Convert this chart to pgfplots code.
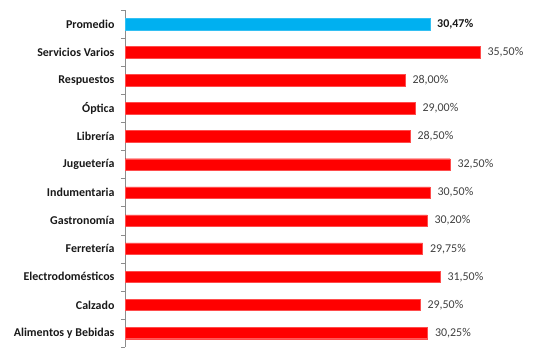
\documentclass[border=0pt]{standalone}
\usepackage{pgfplots}
\pgfplotsset{compat=1.18}
\usepackage{fontspec}
\setmainfont{Carlito}
\definecolor{barred}{RGB}{255,0,0}
\definecolor{barblue}{RGB}{0,176,240}
\definecolor{lblgray}{RGB}{64,64,64}
\begin{document}
\begin{tikzpicture}
\path[use as bounding box] (0,0) rectangle (544bp,355bp);
\begin{axis}[
  at={(125bp,8bp)}, anchor=south west,
  scale only axis, width=410bp, height=337bp,
  xmin=0, xmax=41,
  ymin=-0.5, ymax=11.5,
  axis x line=none,
  axis y line=left,
  y axis line style={-, draw=gray!90},
  ytick={0,...,11},
  yticklabels={Alimentos y Bebidas, Calzado, Electrodomésticos, Ferretería, Gastronomía, Indumentaria, Juguetería, Librería, Óptica, Respuestos, Servicios Varios, Promedio},
  yticklabel style={font=\fontsize{12}{14}\selectfont\bfseries, text=black!90, xshift=-7bp},
  major tick length=0pt,
  minor ytick={-0.5,0.5,...,11.5},
  minor tick length=4bp,
  tick align=outside,
  ytick pos=left,
  minor tick style={draw=gray!90},
  xbar, bar width=11.5bp,
  point meta=x,
  /pgf/number format/assume math mode=true,
  nodes near coords={\pgfmathprintnumber[fixed, fixed zerofill, precision=2, use comma, assume math mode=true]{\pgfplotspointmeta}\%},
  nodes near coords style={anchor=west, xshift=4bp, font=\fontsize{12}{14}\selectfont, text=lblgray},
  clip=false,
]
\addplot[fill=barred, draw=barred!70!white, bar shift=0pt] coordinates {
  (30.25,0) (29.50,1) (31.50,2) (29.75,3) (30.20,4) (30.50,5)
  (32.50,6) (28.50,7) (29.00,8) (28.00,9) (35.50,10)
};
\addplot[fill=barblue, draw=barblue!80!white, bar shift=0pt,
  nodes near coords style={font=\fontsize{12}{14}\selectfont\bfseries, text=black!90}] coordinates {
  (30.47,11)
};
\end{axis}
\end{tikzpicture}
\end{document}
